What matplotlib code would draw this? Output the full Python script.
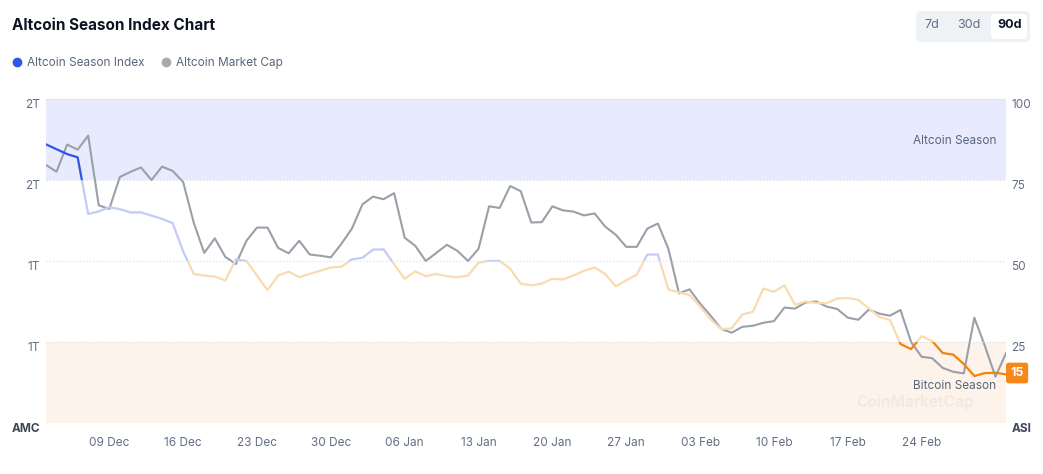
import pandas as pd
import matplotlib.pyplot as plt
import matplotlib.transforms as mtransforms
from matplotlib.patches import Rectangle, FancyBboxPatch
from matplotlib.lines import Line2D

plt.rcParams['font.family'] = ['Inter', 'DejaVu Sans']

# daily values, 03 Dec -> 04 Mar
dates = pd.date_range("2024-12-03", periods=92, freq="D")

# Altcoin Season Index (right axis, 0-100)
asi = [86, 84.5, 83, 82, 64.5, 65.3, 66.6, 66, 65, 65,
       64, 63, 61.7, 53, 46, 45.5, 45.2, 44, 50.5, 50,
       45.5, 41, 45.5, 46.7, 45, 46, 47, 48, 48.2, 50.5,
       51, 53.5, 53.6, 49, 44.5, 46.8, 45.3, 46, 45.3, 45,
       45.5, 49.5, 50, 50, 47.6, 43, 42.5, 43, 44.5, 44.3,
       45.5, 47, 48, 46, 42.2, 44, 45.8, 52, 52, 41.2,
       40.3, 39.5, 36, 32, 29, 29.2, 33.5, 34.3, 41.5, 40.5,
       42.5, 36.5, 37.5, 37, 37, 38.4, 38.6, 38, 35.4, 32.7,
       31.8, 24.4, 22.8, 26.8, 25.3, 21.6, 21.1, 18.2, 14.5, 15.4,
       15.5, 15]

# Altcoin market cap, trillions USD (left axis)
mcap = [1.874, 1.841, 1.975, 1.950, 2.019, 1.675, 1.657, 1.815, 1.840, 1.862,
        1.800, 1.866, 1.845, 1.790, 1.590, 1.440, 1.512, 1.420, 1.385, 1.500,
        1.565, 1.565, 1.465, 1.438, 1.500, 1.432, 1.426, 1.418, 1.485, 1.560,
        1.680, 1.718, 1.705, 1.735, 1.515, 1.475, 1.400, 1.440, 1.480, 1.450,
        1.400, 1.460, 1.670, 1.662, 1.770, 1.745, 1.590, 1.592, 1.670, 1.650,
        1.644, 1.625, 1.635, 1.570, 1.530, 1.470, 1.470, 1.560, 1.585, 1.460,
        1.240, 1.260, 1.190, 1.130, 1.065, 1.046, 1.075, 1.080, 1.095, 1.103,
        1.170, 1.165, 1.195, 1.200, 1.175, 1.163, 1.120, 1.110, 1.160, 1.140,
        1.130, 1.158, 1.000, 0.927, 0.920, 0.872, 0.853, 0.845, 1.120, 0.980,
        0.829, 0.944]

asi_ticks = [0, 25, 50, 75, 100]
asi_labels = ["ASI", "25", "50", "75", "100"]
mcap_ticks = [0.6, 1.0, 1.4, 1.8, 2.2]
mcap_labels = ["AMC", "1T", "1T", "2T", "2T"]
periods = ["7d", "30d", "90d"]

# colour of the index line by zone
zones = [(0, 25, "#f0840f"), (25, 50, "#f8dcb0"), (50, 75, "#c3cbf6"), (75, 100, "#2f55e4")]

TICK = "#616e85"

fig = plt.figure(figsize=(10.43, 4.74), dpi=100)
ax = fig.add_axes([46 / 1043, 51 / 474, 960 / 1043, 324 / 474])
ax2 = ax.twinx()

ax.set_ylim(mcap_ticks[0], mcap_ticks[-1])
ax2.set_ylim(asi_ticks[0], asi_ticks[-1])
ax.set_xlim(dates[0], dates[-1])

# season bands, drawn on the bottom axes in index units
band = mtransforms.blended_transform_factory(ax.transAxes, ax2.transData)
ax.add_patch(Rectangle((0, 75), 1, 25, transform=band, color="#e8ebfd", lw=0, zorder=0))
ax.add_patch(Rectangle((0, 0), 1, 25, transform=band, color="#fdf3ea", lw=0, zorder=0))

ax.plot(dates, mcap, color="#9a9fa8", lw=1.5, zorder=2, solid_joinstyle="round")

# index line, one copy per zone clipped to that zone
clipt = mtransforms.blended_transform_factory(ax2.transAxes, ax2.transData)
for lo, hi, c in zones:
    line, = ax2.plot(dates, asi, color=c, lw=1.6, zorder=3, solid_joinstyle="round")
    clip = Rectangle((0, lo), 1, hi - lo, transform=clipt, fill=False, lw=0)
    ax2.add_patch(clip)
    line.set_clip_path(clip)

ax2.set_yticks(asi_ticks)
ax2.set_yticklabels(asi_labels)
ax.set_yticks(mcap_ticks)
ax.set_yticklabels(mcap_labels)
for a in (ax, ax2):
    for s in a.spines.values():
        s.set_visible(False)
    a.tick_params(axis="y", length=0, pad=4, labelsize=8.5, labelcolor=TICK)
    for t in a.get_yticklabels():
        t.set_va("top")
for t in (ax.get_yticklabels()[0], ax2.get_yticklabels()[0]):
    t.set_fontweight("bold")
    t.set_color("#3d4556")

ax2.grid(axis="y", color="#d9dce1", lw=0.8, ls=(0, (1, 2)))
ax2.set_axisbelow(True)

wk = pd.date_range("2024-12-09", "2025-03-01", freq="7D")
ax.set_xticks(wk)
ax.set_xticklabels([d.strftime("%d %b") for d in wk])
ax.tick_params(axis="x", length=0, pad=10, labelsize=8.5, labelcolor=TICK)

ax2.text(0.99, 87, "Altcoin Season", transform=clipt, ha="right", va="center",
         fontsize=8.5, color="#58667e")
ax2.text(0.99, 11.4, "Bitcoin Season", transform=clipt, ha="right", va="center",
         fontsize=8.5, color="#58667e", zorder=5)
ax2.text(0.905, 0.065, "CoinMarketCap", transform=ax2.transAxes, ha="center", va="center",
         fontsize=11, fontweight="bold", color="#e2dbd4", alpha=0.4, zorder=1)

ax2.annotate(f"{asi[-1]:.0f}", xy=(dates[-1], asi[-1]), xytext=(8, 1),
             textcoords="offset points", ha="center", va="center", color="white",
             fontsize=9, fontweight="bold", annotation_clip=False,
             bbox=dict(boxstyle="round,pad=0.35,rounding_size=0.2", fc="#f68819", ec="none"))

fig.text(12 / 1043, 1 - 25 / 474, "Altcoin Season Index Chart", fontsize=11,
         fontweight="bold", color="#0d1421", va="center")

handles = [Line2D([], [], ls="", marker="o", ms=6, color="#3156e5"),
           Line2D([], [], ls="", marker="o", ms=6, color="#a6a9ae")]
fig.legend(handles, ["Altcoin Season Index", "Altcoin Market Cap"], loc="center left",
           bbox_to_anchor=(0.5 / 1043, 1 - 63 / 474), ncol=2, frameon=False,
           fontsize=8.5, labelcolor="#58667e", handletextpad=0.35, columnspacing=1.3,
           handlelength=1.0)

# period switch, in inches from bottom-left
inch = fig.dpi_scale_trans
fig.add_artist(FancyBboxPatch((9.17, 4.74 - 0.41), 1.12, 0.29, transform=inch,
                              boxstyle="round,pad=0.01,rounding_size=0.05",
                              fc="#eff2f5", ec="none"))
fig.add_artist(FancyBboxPatch((9.92, 4.74 - 0.38), 0.34, 0.23, transform=inch,
                              boxstyle="round,pad=0.01,rounding_size=0.04",
                              fc="white", ec="none"))
for xp, p in zip([932, 969, 1010], periods):
    fig.text(xp / 1043, 1 - 25 / 474, p, ha="center", va="center", fontsize=9,
             color="#0d1421" if p == "90d" else "#616e85",
             fontweight="bold" if p == "90d" else "normal")

fig.savefig("out.png", dpi=100)
